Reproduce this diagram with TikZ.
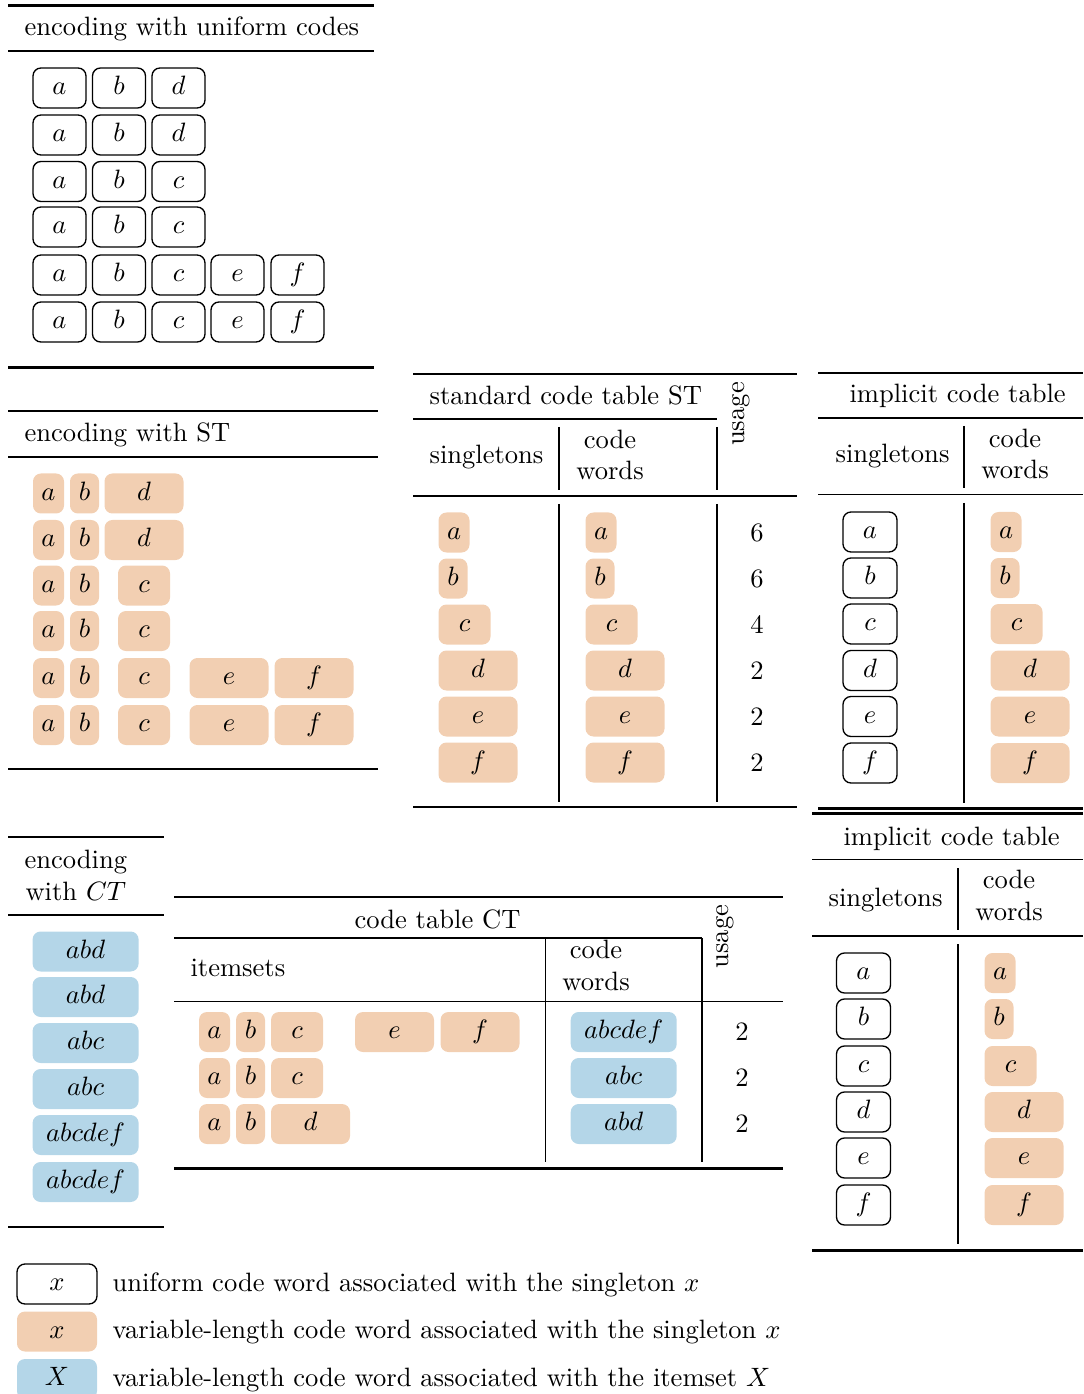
\documentclass[tikz,border=0pt]{standalone}
\usetikzlibrary{positioning}
\definecolor{vlorange}{HTML}{F2CFB2}
\definecolor{itemblue}{HTML}{B4D6E8}
\tikzset{
  sym/.style={rounded corners=3pt,inner sep=0pt,minimum height=15.06pt,
    text height=6.94pt,text depth=1.94pt},
  ucode/.style={sym,draw=black,line width=.5pt,minimum width=53*0.3765pt},
  vcode/.style={sym,fill=vlorange},
  icode/.style={sym,fill=itemblue,minimum width=106*0.3765pt},
  len a/.style={minimum width=31*0.3765pt},
  len b/.style={minimum width=29*0.3765pt},
  len c/.style={minimum width=52*0.3765pt},
  len d/.style={minimum width=79*0.3765pt},
  len e/.style={len d},
  len f/.style={len d},
  toprule/.style={line width=.8pt},
  midrule/.style={line width=.5pt},
  vrule/.style={line width=.4pt},
  hdr/.style={inner sep=0pt,anchor=base west},
  twoline/.style={inner sep=0pt,anchor=base,align=center},
  usage/.style={rotate=90,inner sep=0pt},
}

\begin{document}
\begin{tikzpicture}[x=0.3765pt,y=-0.3765pt]
  % page in pixel units, y grows downwards
  \path[use as bounding box] (0,0) rectangle (1083,1394);

  % ---------------- encoding with uniform codes ----------------
  \draw[toprule] (8,5.5) -- (374,5.5);
  \node[hdr] (uniftitle) at (24,36) {encoding with uniform codes};
  \draw[midrule] (8,51) -- (374,51);
  \foreach \r/\yy/\row in {1/88/{a/59.5,b/119,d/178.5},2/135/{a/59.5,b/119,d/178.5},
      3/181.5/{a/59.5,b/119,c/178.5},4/227/{a/59.5,b/119,c/178.5},
      5/275/{a/59.5,b/119,c/178.5,e/237.5,f/297.5},
      6/322/{a/59.5,b/119,c/178.5,e/237.5,f/297.5}}
    \foreach \l/\xx in \row
      \node[ucode] (u\r\l) at (\xx,\yy) {$\l$};
  \draw[toprule] (8,367.5) -- (374,367.5);

  % ---------------- encoding with ST ----------------
  \draw[toprule] (8,411) -- (378,411);
  \node[hdr] (sttitle) at (24,441.5) {encoding with ST};
  \draw[midrule] (8,457) -- (378,457);
  \foreach \r/\yy/\row in {1/493.5/{a/48.5,b/84.5,d/144},2/540/{a/48.5,b/84.5,d/144},
      3/585.5/{a/48.5,b/84.5,c/144},4/631/{a/48.5,b/84.5,c/144},
      5/678/{a/48.5,b/84.5,c/144,e/229,f/314},
      6/725/{a/48.5,b/84.5,c/144,e/229,f/314}}
    \foreach \l/\xx in \row
      \node[vcode,len \l] (s\r\l) at (\xx,\yy) {$\l$};
  \draw[toprule] (8,769) -- (378,769);

  % ---------------- standard code table ST ----------------
  \draw[toprule] (413,374) -- (797,374);
  \node[hdr] (sttab) at (429,405) {standard code table ST};
  \node[usage] (stusage) at (741,414) {usage};
  \draw[midrule] (413,419) -- (717,419);
  \node[hdr] (stsing) at (429,464) {singletons};
  % base of a two-line node is the baseline of its last line
  \node[twoline] (stwords) at (610,480) {code\\words};
  \draw[vrule] (559,427) -- (559,490.5);
  \draw[vrule] (717,427) -- (717,490.5);
  \draw[midrule] (413,496) -- (797,496);
  \foreach \l/\yy/\n in {a/532.5/6,b/578.5/6,c/624.5/4,d/670.5/2,e/716.5/2,f/762.5/2}{
    \node[vcode,len \l,anchor=west] (sts\l) at (438,\yy) {$\l$};
    \node[vcode,len \l,anchor=west] (stc\l) at (585,\yy) {$\l$};
    \node (stn\l) at (757,\yy) {\n};
  }
  \draw[vrule] (559,504) -- (559,802);
  \draw[vrule] (717,504) -- (717,802);
  \draw[toprule] (413,807) -- (797,807);

  % ---------------- implicit code table (top) ----------------
  \draw[toprule] (818,373) -- (1083,373);
  \node[hdr] (imtab) at (849,403) {implicit code table};
  \draw[midrule] (818,418) -- (1083,418);
  \node[hdr] (imsing) at (835,463) {singletons};
  \node[twoline] (imwords) at (1015,479) {code\\words};
  \draw[vrule] (964,426) -- (964,488);
  \draw[midrule] (818,494.5) -- (1083,494.5);
  \foreach \l/\yy in {a/532,b/578,c/624,d/670.5,e/716.5,f/763}{
    \node[ucode,minimum width=54*0.3765pt] (ims\l) at (870,\yy) {$\l$};
    \node[vcode,len \l,anchor=west] (imc\l) at (990,\yy) {$\l$};
  }
  \draw[vrule] (964,503) -- (964,803);
  \draw[toprule] (818,808.5) -- (1083,808.5);

  % ---------------- implicit code table (bottom) ----------------
  \draw[toprule] (812,813.5) -- (1083,813.5);
  \node[hdr] (ibtab) at (843,845) {implicit code table};
  \draw[midrule] (812,859.5) -- (1083,859.5);
  \node[hdr] (ibsing) at (828,906) {singletons};
  \node[twoline] (ibwords) at (1009,920) {code\\words};
  \draw[vrule] (958,868) -- (958,930);
  \draw[midrule] (812,936) -- (1083,936);
  \foreach \l/\yy in {a/973,b/1019,c/1066,d/1112,e/1158,f/1205}{
    \node[ucode,minimum width=54*0.3765pt] (ibs\l) at (863.5,\yy) {$\l$};
    \node[vcode,len \l,anchor=west] (ibc\l) at (984,\yy) {$\l$};
  }
  \draw[vrule] (958,944) -- (958,1244);
  \draw[toprule] (812,1250.5) -- (1083,1250.5);

  % ---------------- encoding with CT ----------------
  \draw[toprule] (8,837) -- (164,837);
  \node[twoline,anchor=base west] (cttitle) at (24,900) {encoding\\with $CT$};
  \draw[midrule] (8,915) -- (164,915);
  \foreach \r/\yy/\set in {1/951.5/abd,2/997/abd,3/1043/abc,4/1089/abc,
      5/1135/abcdef,6/1182/abcdef}
    \node[icode] (e\r) at (85.6,\yy) {$\set$};
  \draw[toprule] (8,1227) -- (164,1227);

  % ---------------- code table CT ----------------
  \draw[toprule] (174,897) -- (783,897);
  \node[twoline] (cttab) at (437.5,928) {code table CT};
  \node[usage] (ctusage) at (725,936.5) {usage};
  \draw[midrule] (174,938) -- (702,938);
  \node[hdr] (ctitems) at (190,976) {itemsets};
  \node[twoline] (ctwords) at (596,990.5) {code\\words};
  \draw[vrule] (545.5,938) -- (545.5,1001.5);
  \draw[vrule] (702,938) -- (702,1001.5);
  \draw[midrule] (174,1001.5) -- (783,1001.5);
  \foreach \r/\yy/\set/\row in {1/1032/abcdef/{a/214.5,b/250.5,c/297,e/394.5,f/480},
      2/1078/abc/{a/214.5,b/250.5,c/297},3/1124/abd/{a/214.5,b/250.5,d/310.5}}{
    \foreach \l/\xx in \row
      \node[vcode,len \l] (ct\r\l) at (\xx,\yy) {$\l$};
    \node[icode] (ctc\r) at (623.7,\yy) {$\set$};
    \node (ctn\r) at (742,\yy) {2};
  }
  \draw[vrule] (545.5,1001.5) -- (545.5,1162);
  \draw[vrule] (702,1001.5) -- (702,1162);
  \draw[toprule] (174,1168.5) -- (783,1168.5);

  % ---------------- key ----------------
  \node[ucode,minimum width=80*0.3765pt] (keyu) at (57,1284) {$x$};
  \node[vcode,minimum width=80*0.3765pt] (keyv) at (57,1331.5) {$x$};
  \node[icode,minimum width=80*0.3765pt] (keyi) at (57,1379) {$X$};
  \node[hdr] (keyutext) at (112,1291) {uniform code word associated with the singleton $x$};
  \node[hdr] (keyvtext) at (112,1338.5) {variable-length code word associated with the singleton $x$};
  \node[hdr] (keyitext) at (112,1386) {variable-length code word associated with the itemset $X$};
\end{tikzpicture}
\end{document}
